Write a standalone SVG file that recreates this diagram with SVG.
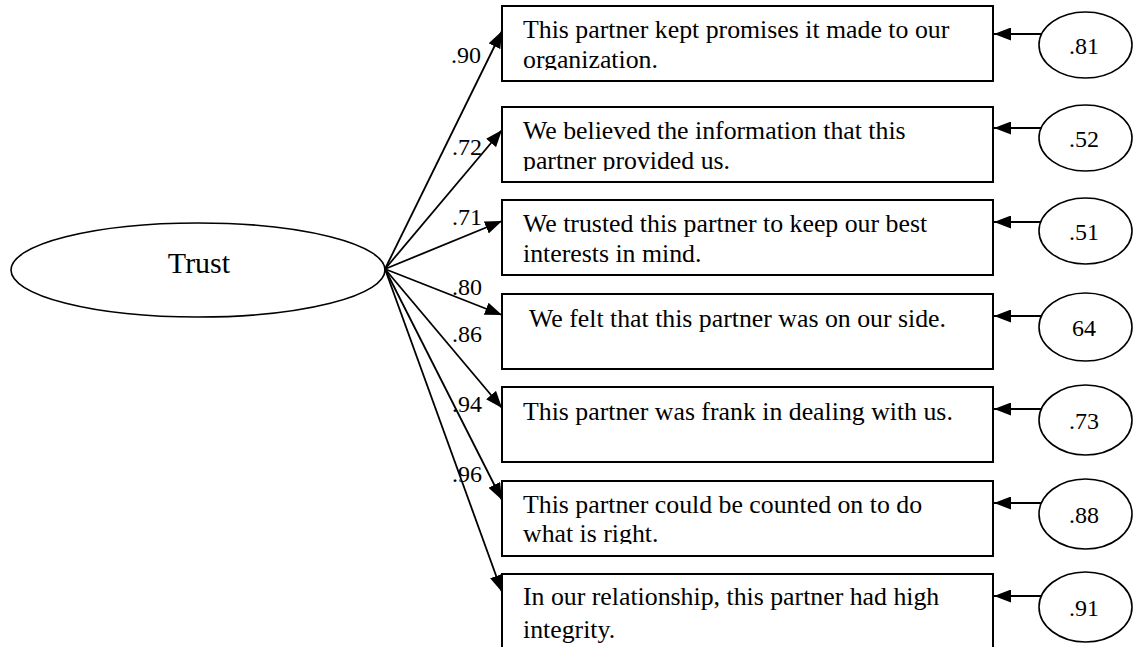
<svg xmlns="http://www.w3.org/2000/svg" width="1133" height="647" viewBox="0 0 1133 647">
<style>
text{font-family:"Liberation Serif","Times New Roman",serif;fill:#000}
.box{fill:#fff;stroke:#000;stroke-width:2}
.ell{fill:#fff;stroke:#000;stroke-width:1.6}
.bt{font-size:25.8px}
.lbl{font-size:24px}
.err{font-size:24px;text-anchor:middle}
.con line{stroke:#000;stroke-width:1.8;marker-end:url(#ah)}
</style>
<defs>
<marker id="ah" markerUnits="userSpaceOnUse" markerWidth="18" markerHeight="13" refX="17" refY="6.5" orient="auto">
<path d="M0,0 L17,6.5 L0,13 z" fill="#000"/>
</marker>
<clipPath id="c1"><rect x="502" y="6" width="491" height="64"/></clipPath>
<clipPath id="c2"><rect x="502" y="107" width="491" height="64"/></clipPath>
<clipPath id="c3"><rect x="502" y="200" width="491" height="64"/></clipPath>
<clipPath id="c6"><rect x="502" y="481" width="491" height="63"/></clipPath>
<clipPath id="c7"><rect x="502" y="574" width="491" height="80"/></clipPath>
</defs>
<rect width="1133" height="647" fill="#fff"/>

<g id="trust">
<ellipse class="ell" cx="198" cy="270" rx="187" ry="47"/>
<text x="199" y="273" style="font-size:30px" text-anchor="middle">Trust</text>
</g>

<g id="item1">
<rect class="box" x="502" y="6" width="491" height="75"/>
<g clip-path="url(#c1)"><text class="bt" x="523" y="38">This partner kept promises it made to our</text>
<text class="bt" x="523" y="68">organization.</text></g>
</g>
<g id="item2">
<rect class="box" x="502" y="107" width="491" height="75"/>
<g clip-path="url(#c2)"><text class="bt" x="523" y="139">We believed the information that this</text>
<text class="bt" x="523" y="169">partner provided us.</text></g>
</g>
<g id="item3">
<rect class="box" x="502" y="200" width="491" height="75"/>
<g clip-path="url(#c3)"><text class="bt" x="523" y="232">We trusted this partner to keep our best</text>
<text class="bt" x="523" y="262">interests in mind.</text></g>
</g>
<g id="item4">
<rect class="box" x="502" y="294" width="491" height="75"/>
<text class="bt" x="529" y="327">We felt that this partner was on our side.</text>
</g>
<g id="item5">
<rect class="box" x="502" y="387" width="491" height="75"/>
<text class="bt" x="523" y="420">This partner was frank in dealing with us.</text>
</g>
<g id="item6">
<rect class="box" x="502" y="481" width="491" height="75"/>
<g clip-path="url(#c6)"><text class="bt" x="523" y="513">This partner could be counted on to do</text>
<text class="bt" x="523" y="542">what is right.</text></g>
</g>
<g id="item7">
<rect class="box" x="502" y="574" width="491" height="78"/>
<g clip-path="url(#c7)"><text class="bt" x="523" y="605">In our relationship, this partner had high</text>
<text class="bt" x="523" y="638">integrity.</text></g>
</g>

<g id="e1"><ellipse class="ell" cx="1085.5" cy="45" rx="46.5" ry="33"/><text class="err" x="1084" y="54">.81</text></g>
<g id="e2"><ellipse class="ell" cx="1085.5" cy="138" rx="46.5" ry="33"/><text class="err" x="1084" y="147">.52</text></g>
<g id="e3"><ellipse class="ell" cx="1085.5" cy="231" rx="46.5" ry="33"/><text class="err" x="1084" y="240">.51</text></g>
<g id="e4"><ellipse class="ell" cx="1085.5" cy="327" rx="46.5" ry="34"/><text class="err" x="1084" y="336">64</text></g>
<g id="e5"><ellipse class="ell" cx="1085.5" cy="420" rx="46.5" ry="35"/><text class="err" x="1084" y="429">.73</text></g>
<g id="e6"><ellipse class="ell" cx="1085.5" cy="514" rx="46.5" ry="35"/><text class="err" x="1084" y="523">.88</text></g>
<g id="e7"><ellipse class="ell" cx="1085.5" cy="607" rx="46.5" ry="35"/><text class="err" x="1084" y="616">.91</text></g>

<g id="connectors" class="con">
<line x1="385" y1="269" x2="502" y2="31"/>
<line x1="385" y1="269" x2="502" y2="130"/>
<line x1="385" y1="269" x2="502" y2="221"/>
<line x1="385" y1="269" x2="502" y2="315"/>
<line x1="385" y1="269" x2="502" y2="408"/>
<line x1="385" y1="269" x2="502" y2="500"/>
<line x1="385" y1="269" x2="502" y2="592"/>
<line x1="1041" y1="34" x2="994" y2="34"/>
<line x1="1041" y1="128" x2="994" y2="128"/>
<line x1="1041" y1="222" x2="994" y2="222"/>
<line x1="1041" y1="316" x2="994" y2="316"/>
<line x1="1041" y1="409" x2="994" y2="409"/>
<line x1="1041" y1="503" x2="994" y2="503"/>
<line x1="1041" y1="596" x2="994" y2="596"/>
</g>

<g id="labels">
<text class="lbl" x="451" y="63">.90</text>
<text class="lbl" x="452" y="155">.72</text>
<text class="lbl" x="452" y="225">.71</text>
<text class="lbl" x="452" y="295">.80</text>
<text class="lbl" x="452" y="342">.86</text>
<text class="lbl" x="452" y="412">.94</text>
<text class="lbl" x="452" y="482">.96</text>
</g>
</svg>
